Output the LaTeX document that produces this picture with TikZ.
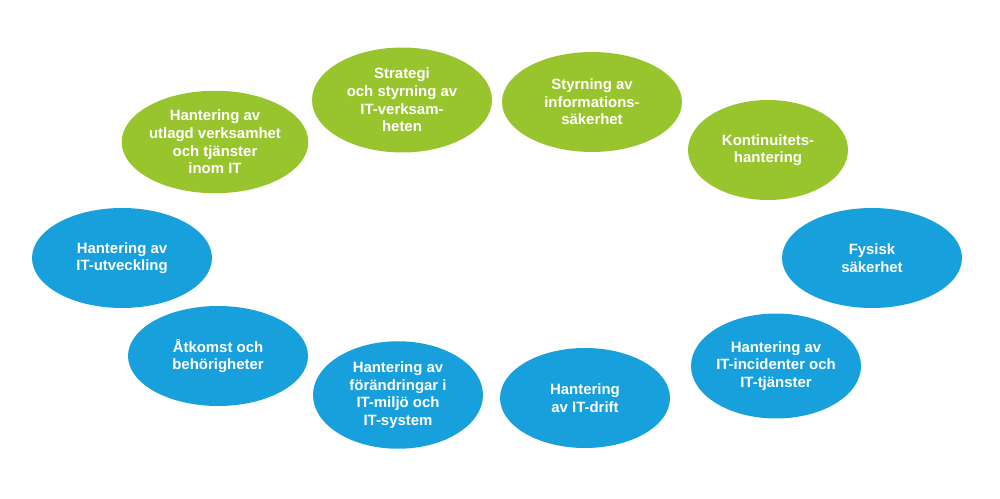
\documentclass[tikz,border=0pt]{standalone}
\usepackage{fontspec}
\setmainfont{Liberation Sans}
\usetikzlibrary{shapes.geometric}
\definecolor{gron}{RGB}{152,196,46}
\definecolor{bla}{RGB}{24,160,220}
\tikzset{
  omr/.style={ellipse, draw=none, text=white, font=\bfseries\fontsize{8.5}{10}\selectfont,
    align=center, inner sep=0pt, minimum width=3.4cm, minimum height=2.05cm},
  gomr/.style={omr, fill=gron},
  bomr/.style={omr, fill=bla}
}
\begin{document}
\begin{tikzpicture}[x=0.02cm,y=-0.02cm]
\useasboundingbox (0,0) rectangle (1000,499);
% gröna
\node[gomr] (utlagd) at (215,142) {Hantering av\\utlagd verksamhet\\och tjänster\\inom IT};
\node[gomr, minimum width=3.6cm, minimum height=2.1cm] (strategi) at (402,100) {Strategi\\och styrning av\\IT-verksam-\\heten};
\node[gomr, minimum width=3.6cm, minimum height=2cm] (infosak) at (592,102) {Styrning av\\informations-\\säkerhet};
\node[gomr, minimum width=3.2cm, minimum height=2cm] (kont) at (768,150) {Kontinuitets-\\hantering};
% blå
\node[bomr, minimum width=3.6cm, minimum height=2cm] (fysisk) at (872,258) {Fysisk\\säkerhet};
\node[bomr, minimum height=2.1cm] (incident) at (776,366) {Hantering av\\IT-incidenter och\\IT-tjänster};
\node[bomr, minimum height=2cm] (drift) at (585,398) {Hantering\\av IT-drift};
\node[bomr, minimum height=2.15cm] (andring) at (398,395) {Hantering av\\förändringar i\\IT-miljö och\\IT-system};
\node[bomr, minimum width=3.6cm, minimum height=2cm] (atkomst) at (218,356) {Åtkomst och\\behörigheter};
\node[bomr, minimum width=3.6cm, minimum height=2cm] (utveckl) at (122,258) {Hantering av\\IT-utveckling};
\end{tikzpicture}
\end{document}
